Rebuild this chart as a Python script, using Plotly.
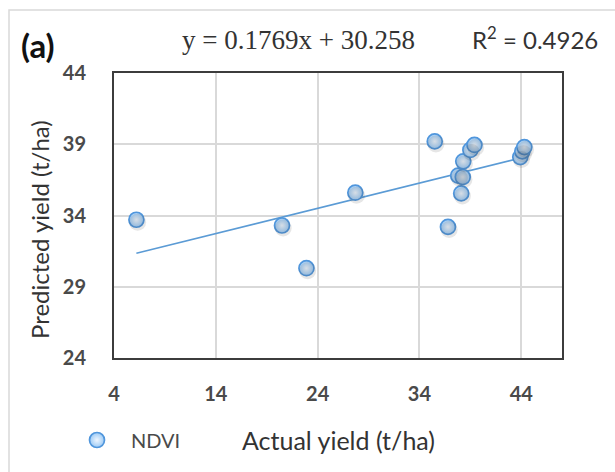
import plotly.graph_objects as go

# Actual vs predicted yield (t/ha), NDVI model
actual_yield = [6.2, 20.5, 22.9, 27.7, 35.5, 36.8, 37.8, 38.25, 38.1, 38.3, 39.0, 39.4, 43.9, 44.1, 44.3]
predicted_yield = [33.7, 33.3, 30.3, 35.6, 39.2, 33.2, 36.8, 36.7, 35.55, 37.8, 38.6, 38.95, 38.1, 38.5, 38.8]

# Linear trend reported for the series
slope = 0.1769
intercept = 30.258
r_squared = 0.4926

x_ticks = [4, 14, 24, 34, 44]
y_ticks = [24, 29, 34, 39, 44]

W, H = 615, 472
L, R, T, B = 114, 53, 73, 114
plot_w = W - L - R
plot_h = H - T - B


def px(xp):
    return (xp - L) / plot_w


def py(yp):
    return (H - B - yp) / plot_h


x_range = [4, 48]
y_range = [24, 44]

tick_color = "#4a4a4a"
text_color = "#333333"
blue_line = "#5b9bd5"

trend_x = [min(actual_yield), max(actual_yield)]
trend_y = [slope * v + intercept for v in trend_x]

fig = go.Figure()

# soft drop shadow: same points on an overlaid axis pair nudged a couple of pixels
dx_units = 1.2 * (x_range[1] - x_range[0]) / plot_w
dy_units = 2.5 * (y_range[1] - y_range[0]) / plot_h
fig.add_trace(go.Scatter(
    x=actual_yield, y=predicted_yield, mode="markers",
    xaxis="x2", yaxis="y2", showlegend=False, hoverinfo="skip",
    marker=dict(size=17, color="rgba(60,60,60,0.13)", line=dict(width=0)),
))

fig.add_trace(go.Scatter(
    x=trend_x, y=trend_y, mode="lines", showlegend=False,
    line=dict(color=blue_line, width=1.6),
))

fig.add_trace(go.Scatter(
    x=actual_yield, y=predicted_yield, mode="markers", name="NDVI",
    marker=dict(
        size=15, color="#9ccaf5",
        gradient=dict(type="radial", color="#eef6ff"),
        line=dict(color="#5096dc", width=1.7),
    ),
))

fig.update_layout(
    width=W, height=H,
    margin=dict(l=L, r=R, t=T, b=B, pad=0),
    paper_bgcolor="white", plot_bgcolor="white",
    font=dict(family="Lato, 'Open Sans', sans-serif", color=tick_color),
    xaxis=dict(
        range=x_range, tickvals=x_ticks, showgrid=True, gridcolor="#d9d9d9", gridwidth=1.5,
        showline=True, linecolor="#3c3c3c", linewidth=2, mirror=True,
        ticks="", ticklabelstandoff=17, zeroline=False,
        tickfont=dict(size=20, color=tick_color, weight="bold"),
    ),
    yaxis=dict(
        range=y_range, tickvals=y_ticks, showgrid=True, gridcolor="#d9d9d9", gridwidth=1.5,
        showline=True, linecolor="#3c3c3c", linewidth=2, mirror=True,
        ticks="", ticklabelstandoff=22, zeroline=False,
        tickfont=dict(size=20, color=tick_color, weight="bold"),
    ),
    xaxis2=dict(range=[x_range[0] - dx_units, x_range[1] - dx_units], overlaying="x",
                visible=False),
    yaxis2=dict(range=[y_range[0] + dy_units, y_range[1] + dy_units], overlaying="y",
                visible=False),
    showlegend=True,
    legend=dict(
        x=px(63), y=py(440), xanchor="left", yanchor="middle",
        bgcolor="rgba(0,0,0,0)", font=dict(size=20, color=tick_color),
        itemwidth=58,
    ),
    shapes=[
        dict(type="rect", xref="paper", yref="paper",
             x0=px(9), x1=px(640), y0=py(10), y1=py(500),
             line=dict(color="#d9d9d9", width=1.5), fillcolor="rgba(0,0,0,0)", layer="below"),
    ],
    annotations=[
        dict(text="(a)", xref="paper", yref="paper", x=px(38), y=py(45),
             xanchor="center", yanchor="middle", showarrow=False,
             font=dict(family="Lato, sans-serif", size=33, color="#111111", weight="bold")),
        dict(text=f"y = {slope}x + {intercept}", xref="paper", yref="paper",
             x=px(298), y=py(40), xanchor="center", yanchor="middle", showarrow=False,
             font=dict(family="'Liberation Serif', serif", size=27, color=text_color)),
        dict(text=f"R<sup>2</sup> = {r_squared}", xref="paper", yref="paper",
             x=px(535), y=py(38), xanchor="center", yanchor="middle", showarrow=False,
             font=dict(size=24, color=text_color)),
        dict(text="Actual yield (t/ha)", xref="paper", yref="paper",
             x=px(338), y=py(440), xanchor="center", yanchor="middle", showarrow=False,
             font=dict(size=25, color=text_color)),
        dict(text="Predicted yield (t/ha)", xref="paper", yref="paper",
             x=px(40), y=py(230), xanchor="center", yanchor="middle", showarrow=False,
             textangle=-90, font=dict(size=24, color=text_color)),
    ],
)

fig.write_html("out.html")
